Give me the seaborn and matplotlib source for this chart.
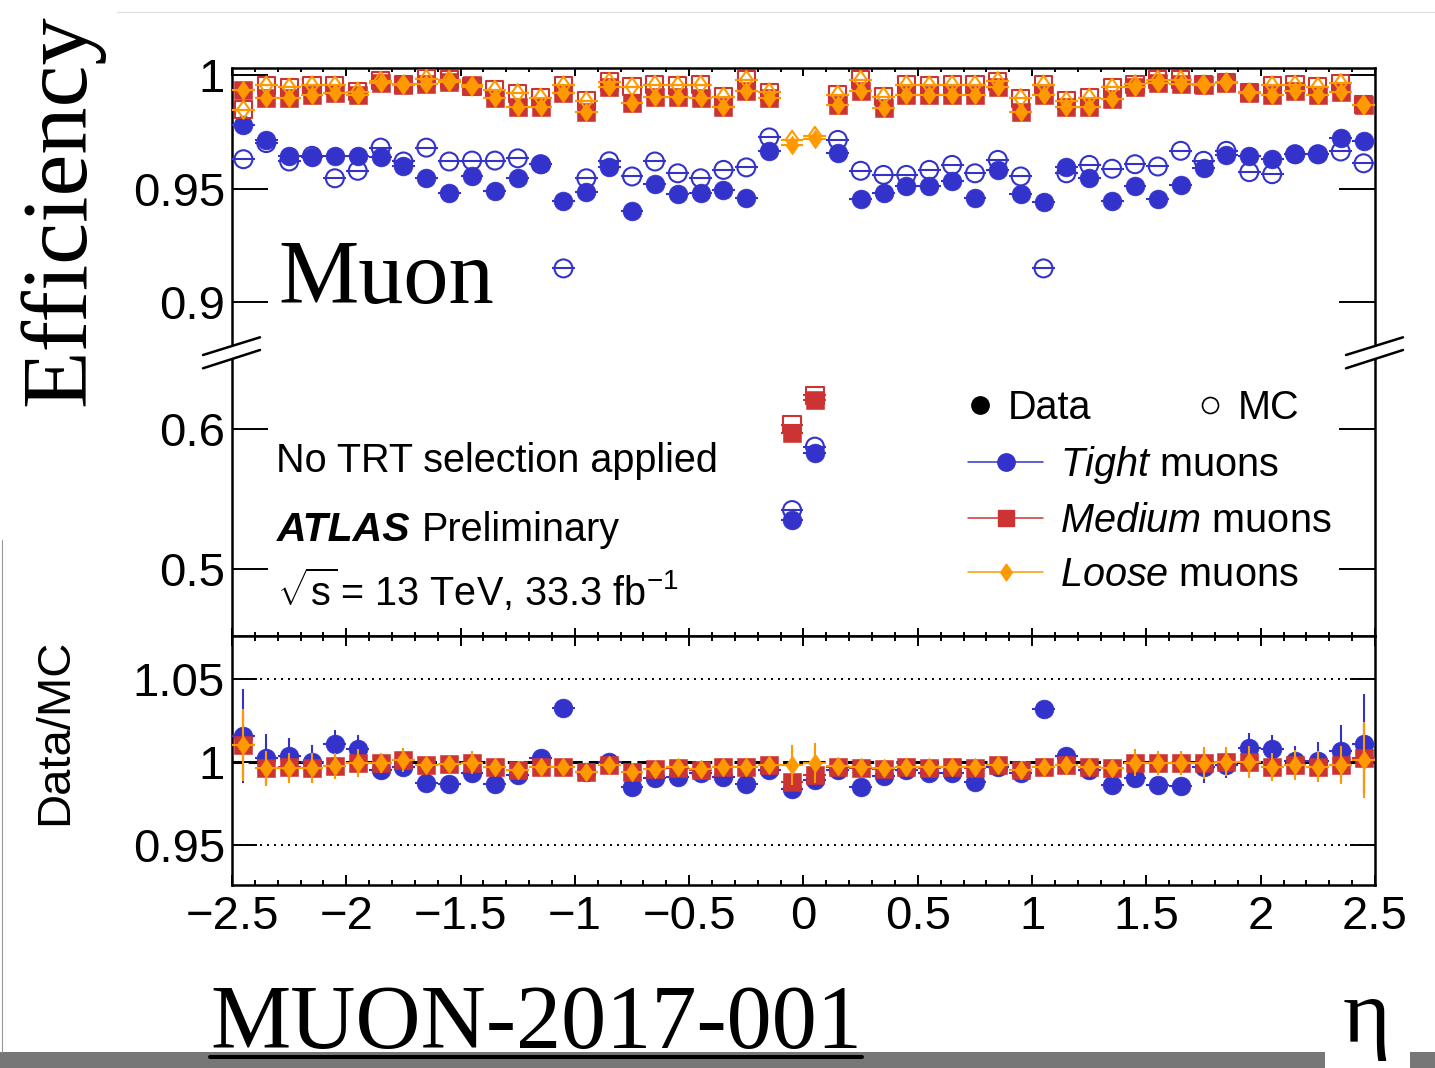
import numpy as np
import pandas as pd
import matplotlib
matplotlib.use("Agg")
import matplotlib.pyplot as plt
import seaborn as sns
from matplotlib.lines import Line2D
from matplotlib.patches import Rectangle, Polygon
from matplotlib.path import Path
from matplotlib.ticker import MultipleLocator, FixedLocator, FuncFormatter, NullLocator

# ---------------------------------------------------------------- data
# eta bin centres (bin width 0.1)
eta = [-2.45, -2.35, -2.25, -2.15, -2.05, -1.95, -1.85, -1.75, -1.65, -1.55,
       -1.45, -1.35, -1.25, -1.15, -1.05, -0.95, -0.85, -0.75, -0.65, -0.55,
       -0.45, -0.35, -0.25, -0.15, -0.05, 0.05, 0.15, 0.25, 0.35, 0.45,
       0.55, 0.65, 0.75, 0.85, 0.95, 1.05, 1.15, 1.25, 1.35, 1.45,
       1.55, 1.65, 1.75, 1.85, 1.95, 2.05, 2.15, 2.25, 2.35, 2.45]
bin_half_width = 0.05

tight_data = [0.978, 0.9715, 0.9644, 0.9638, 0.9641, 0.9641, 0.9637, 0.960, 0.9545, 0.948,
              0.9553, 0.9487, 0.9548, 0.9607, 0.9446, 0.9484, 0.9593, 0.9403, 0.9519, 0.9475,
              0.9479, 0.9494, 0.946, 0.9663, 0.535, 0.5826, 0.9656, 0.9455, 0.9479, 0.9509,
              0.9509, 0.9531, 0.9457, 0.9582, 0.9475, 0.944, 0.9593, 0.9548, 0.9443, 0.9509,
              0.9455, 0.9516, 0.9589, 0.9648, 0.9641, 0.9631, 0.9651, 0.9651, 0.9722, 0.971]
tight_mc = [0.9629, 0.970, 0.9619, 0.9644, 0.9545, 0.9578, 0.968, 0.9619, 0.968, 0.9619,
            0.9623, 0.9623, 0.9633, 0.9607, 0.9148, 0.9545, 0.962, 0.9553, 0.9619, 0.9567,
            0.9545, 0.9582, 0.9593, 0.9725, 0.5421, 0.5874, 0.9714, 0.9578, 0.956, 0.956,
            0.9582, 0.9604, 0.9567, 0.9626, 0.9553, 0.9148, 0.9567, 0.9604, 0.9587, 0.9607,
            0.9597, 0.9666, 0.9622, 0.9666, 0.9572, 0.9563, 0.9651, 0.9651, 0.9663, 0.9611]

medium_data = [0.9935, 0.990, 0.9898, 0.991, 0.992, 0.9913, 0.9964, 0.9954, 0.996, 0.9968,
               0.9954, 0.9898, 0.9861, 0.9861, 0.992, 0.9839, 0.9945, 0.9876, 0.9905, 0.9905,
               0.990, 0.9857, 0.993, 0.990, 0.597, 0.6205, 0.9869, 0.993, 0.9854, 0.9913,
               0.991, 0.9913, 0.9913, 0.9949, 0.9839, 0.9913, 0.9861, 0.9857, 0.9895, 0.9949,
               0.9964, 0.996, 0.9954, 0.9964, 0.992, 0.9913, 0.993, 0.9913, 0.9927, 0.9869]
medium_mc = [0.9847, 0.9954, 0.9945, 0.9954, 0.9954, 0.9927, 0.9975, 0.9959, 0.9983, 0.9979,
             0.9949, 0.9935, 0.992, 0.990, 0.9954, 0.9886, 0.9969, 0.9949, 0.9957, 0.9954,
             0.9957, 0.9905, 0.9979, 0.9924, 0.603, 0.624, 0.9913, 0.9979, 0.9905, 0.9957,
             0.9954, 0.9957, 0.9957, 0.9973, 0.9898, 0.9957, 0.9886, 0.990, 0.9945, 0.9959,
             0.9979, 0.9979, 0.9959, 0.9968, 0.9924, 0.9954, 0.9957, 0.9949, 0.9964, 0.9869]

loose_data = [0.9935, 0.990, 0.9898, 0.991, 0.992, 0.9913, 0.9964, 0.9954, 0.996, 0.9968,
              0.9954, 0.9898, 0.9861, 0.9861, 0.992, 0.9839, 0.9945, 0.9876, 0.9905, 0.9905,
              0.990, 0.9857, 0.993, 0.990, 0.9692, 0.9718, 0.9869, 0.993, 0.9854, 0.9913,
              0.991, 0.9913, 0.9913, 0.9949, 0.9839, 0.9913, 0.9861, 0.9857, 0.9895, 0.9949,
              0.9964, 0.996, 0.9954, 0.9964, 0.992, 0.9913, 0.993, 0.9913, 0.9927, 0.9869]
loose_mc = [0.9847, 0.9954, 0.9945, 0.9954, 0.9954, 0.9927, 0.9975, 0.9959, 0.9983, 0.9979,
            0.9949, 0.9935, 0.992, 0.990, 0.9954, 0.9886, 0.9969, 0.9949, 0.9957, 0.9954,
            0.9957, 0.9905, 0.9979, 0.9924, 0.9715, 0.9732, 0.9913, 0.9979, 0.9905, 0.9957,
            0.9954, 0.9957, 0.9957, 0.9973, 0.9898, 0.9957, 0.9886, 0.990, 0.9945, 0.9959,
            0.9979, 0.9979, 0.9959, 0.9968, 0.9924, 0.9954, 0.9957, 0.9949, 0.9964, 0.9869]

# Data/MC scale factors and their uncertainties
tight_ratio = [1.0157, 1.0022, 1.0036, 1.0002, 1.0108, 1.0076, 0.9952, 0.9972, 0.9872, 0.9866,
               0.9932, 0.9867, 0.9922, 1.0022, 1.0323, 0.9942, 0.9998, 0.9851, 0.9902, 0.9912,
               0.9936, 0.9912, 0.9867, 0.9952, 0.9835, 0.9892, 0.9952, 0.9851, 0.9916, 0.9952,
               0.9932, 0.9932, 0.9881, 0.9972, 0.9932, 1.0317, 1.0036, 0.9952, 0.9861, 0.9902,
               0.9861, 0.9855, 0.9972, 0.9982, 1.0083, 1.0076, 1.0008, 1.0008, 1.0068, 1.0108]
tight_ratio_err = [0.028, 0.015, 0.011, 0.010, 0.0088, 0.009, 0.005, 0.005, 0.004, 0.004,
                   0.004, 0.004, 0.004, 0.004, 0.004, 0.004, 0.004, 0.004, 0.004, 0.004,
                   0.004, 0.004, 0.004, 0.004, 0.005, 0.005, 0.004, 0.004, 0.004, 0.004,
                   0.004, 0.004, 0.004, 0.004, 0.004, 0.004, 0.004, 0.004, 0.004, 0.004,
                   0.005, 0.005, 0.010, 0.008, 0.0094, 0.0086, 0.009, 0.011, 0.0155, 0.030]
medium_ratio = [1.0102, 0.9962, 0.997, 0.9962, 0.9976, 0.9996, 0.9996, 1.0012, 0.998, 0.999,
                0.9996, 0.9968, 0.9952, 0.9968, 0.9972, 0.9942, 0.9982, 0.9942, 0.9956, 0.9962,
                0.9952, 0.9968, 0.9968, 0.9982, 0.9881, 0.9922, 0.9972, 0.9962, 0.9956, 0.9968,
                0.9962, 0.9968, 0.9962, 0.9982, 0.9952, 0.9968, 0.998, 0.9968, 0.9962, 0.9996,
                0.9992, 0.9992, 0.9996, 1.0002, 1.0002, 0.997, 0.9982, 0.9972, 0.9982, 1.0022]
medium_ratio_err = [0.019, 0.0095, 0.008, 0.008, 0.007, 0.0075, 0.0055, 0.0055, 0.004, 0.004,
                    0.004, 0.004, 0.004, 0.004, 0.004, 0.004, 0.003, 0.003, 0.003, 0.003,
                    0.003, 0.003, 0.003, 0.003, 0.004, 0.004, 0.003, 0.003, 0.003, 0.003,
                    0.003, 0.003, 0.003, 0.003, 0.004, 0.004, 0.004, 0.004, 0.004, 0.005,
                    0.006, 0.006, 0.0085, 0.008, 0.0085, 0.0075, 0.008, 0.0085, 0.010, 0.021]
loose_ratio = [1.0102, 0.9962, 0.9966, 0.9962, 0.9976, 0.9996, 0.9996, 1.0012, 0.998, 0.999,
               0.9996, 0.9968, 0.9952, 0.9968, 0.9972, 0.9942, 0.9982, 0.9942, 0.9956, 0.9968,
               0.9956, 0.9968, 0.9972, 0.9982, 0.998, 0.9992, 0.9976, 0.9968, 0.9962, 0.9972,
               0.9968, 0.9972, 0.9968, 0.9982, 0.9952, 0.9968, 0.998, 0.9968, 0.9962, 0.9996,
               0.9992, 0.9992, 0.9996, 1.0002, 1.0002, 0.997, 0.9982, 0.9972, 0.9982, 1.0012]
loose_ratio_err = [0.0215, 0.0105, 0.009, 0.009, 0.008, 0.0085, 0.006, 0.0072, 0.004, 0.004,
                   0.007, 0.004, 0.004, 0.004, 0.004, 0.004, 0.003, 0.003, 0.003, 0.003,
                   0.003, 0.003, 0.003, 0.003, 0.012, 0.012, 0.003, 0.003, 0.003, 0.003,
                   0.003, 0.003, 0.003, 0.003, 0.004, 0.004, 0.004, 0.004, 0.005, 0.008,
                   0.0072, 0.0072, 0.0095, 0.0087, 0.0095, 0.0083, 0.009, 0.0093, 0.0113, 0.023]

eta_ticks = [-2.5, -2, -1.5, -1, -0.5, 0, 0.5, 1, 1.5, 2, 2.5]
eff_ticks = [0.5, 0.6, 0.9, 0.95, 1.0]
ratio_ticks = [0.95, 1.0, 1.05]

# ---------------------------------------------------------------- style
W, H = 1435, 1068
def fx(px):
    return px / W
def fy(py):
    return 1 - py / H

sns.set_theme(style="ticks")
plt.rcParams["font.family"] = ["Liberation Sans", "DejaVu Sans"]
plt.rcParams["mathtext.fontset"] = "custom"
plt.rcParams["mathtext.rm"] = "Liberation Sans"
plt.rcParams["mathtext.it"] = "Liberation Sans:italic"
plt.rcParams["mathtext.bf"] = "Liberation Sans:bold"
plt.rcParams["axes.unicode_minus"] = True
plt.rcParams["axes.linewidth"] = 1.8
plt.rcParams["axes.edgecolor"] = "black"
for key in ("text.color", "axes.labelcolor", "xtick.color", "ytick.color"):
    plt.rcParams[key] = "black"

BLUE, RED, ORANGE = "#3333cc", "#cc3333", "#ff9900"
TXT = 28.5
TICK = 34
S_CIRCLE, S_SQUARE, S_DIAMOND = 185, 170, 185

diamond = Path([(0, 1), (0.7, 0), (0, -1), (-0.7, 0), (0, 1)],
               [Path.MOVETO, Path.LINETO, Path.LINETO, Path.LINETO, Path.CLOSEPOLY])

fig = plt.figure(figsize=(W / 100, H / 100), dpi=100)
ax = fig.add_axes([fx(232), fy(636), (1375 - 232) / W, (636 - 68) / H])
axr = fig.add_axes([fx(232), fy(885), (1375 - 232) / W, (885 - 636) / H])

# broken efficiency axis: two linear segments joined at the break
Y_KNOTS = [-10.0, 0.6, 0.65429, 0.87841, 0.9, 10.0]
F_KNOTS = [207 - 10.6 * 1400, 207, 283, 285, 334, 334 + 9.1 * 2270]
def fwd(y):
    return np.interp(y, Y_KNOTS, F_KNOTS)
def inv(f):
    return np.interp(f, F_KNOTS, Y_KNOTS)
ax.set_yscale("function", functions=(fwd, inv))


def draw_series(axis, y, color, marker, size, filled, z, yerr=None):
    df = pd.DataFrame({"eta": eta, "value": y})
    axis.errorbar(df["eta"], df["value"], xerr=bin_half_width, yerr=yerr, fmt="none",
                  ecolor=color, elinewidth=1.5, capsize=0, zorder=z)
    if filled:
        sns.scatterplot(data=df, x="eta", y="value", ax=axis, marker=marker, s=size,
                        color=color, edgecolor=color, linewidth=0.4, zorder=z + 0.5,
                        legend=False)
    else:
        sns.scatterplot(data=df, x="eta", y="value", ax=axis, marker=marker, s=size * 0.9,
                        color=color, facecolor="none", edgecolor=color, linewidth=1.5,
                        zorder=z + 0.5, legend=False)


# efficiency panel
draw_series(ax, tight_mc, BLUE, "o", S_CIRCLE, False, 3)
draw_series(ax, tight_data, BLUE, "o", S_CIRCLE, True, 4)
draw_series(ax, medium_mc, RED, "s", S_SQUARE, False, 5)
draw_series(ax, medium_data, RED, "s", S_SQUARE, True, 6)
draw_series(ax, loose_mc, ORANGE, diamond, S_DIAMOND, False, 7)
draw_series(ax, loose_data, ORANGE, diamond, S_DIAMOND, True, 8)

# ratio panel
axr.axhline(1.0, color="black", lw=2.2, ls=(0, (3.3, 2.0)), zorder=1)
for v in (0.95, 1.05):
    axr.axhline(v, color="black", lw=1.4, ls=(0, (1, 2.6)), zorder=1)
draw_series(axr, tight_ratio, BLUE, "o", S_CIRCLE, True, 3, yerr=tight_ratio_err)
draw_series(axr, medium_ratio, RED, "s", S_SQUARE, True, 5, yerr=medium_ratio_err)
draw_series(axr, loose_ratio, ORANGE, diamond, S_DIAMOND, True, 7, yerr=loose_ratio_err)

# axes limits, ticks
for a in (ax, axr):
    a.set_xlim(-2.5, 2.5)
    a.set_xlabel("")
    a.set_ylabel("")
    a.xaxis.set_major_locator(FixedLocator(eta_ticks))
    a.xaxis.set_minor_locator(MultipleLocator(0.1))
    for s in a.spines.values():
        s.set_visible(True)
        s.set_linewidth(1.8)
        s.set_color("black")

ax.set_ylim(inv(0), inv(568))
ax.yaxis.set_major_locator(FixedLocator(eff_ticks))
ax.yaxis.set_minor_locator(NullLocator())
ax.yaxis.set_major_formatter(FuncFormatter(lambda v, p: f"{v:g}"))
ax.tick_params(axis="x", which="both", direction="in", top=True, bottom=True,
               labelbottom=False, width=1.4)
ax.tick_params(axis="x", which="major", length=6)
ax.tick_params(axis="x", which="minor", length=3)
ax.tick_params(axis="y", which="major", direction="in", left=True, right=True,
               length=26, width=1.4, labelsize=TICK, pad=5)

axr.set_ylim(0.926, 1.0759)
axr.yaxis.set_major_locator(FixedLocator(ratio_ticks))
axr.yaxis.set_minor_locator(NullLocator())
axr.yaxis.set_major_formatter(FuncFormatter(lambda v, p: f"{v:g}"))
axr.xaxis.set_major_formatter(FuncFormatter(lambda v, p: f"{v:g}".replace("-", "\u2212")))
axr.tick_params(axis="x", which="both", direction="in", top=True, bottom=True,
                width=1.4, labelsize=TICK, pad=7)
axr.tick_params(axis="x", which="major", length=7.5)
axr.tick_params(axis="x", which="minor", length=3.8)
axr.tick_params(axis="y", which="major", direction="in", left=True, right=True,
                length=18, width=1.4, labelsize=TICK, pad=5)

# axis break marks on both sides of the efficiency panel
for dx in (0, 1143):
    fig.add_artist(Polygon([(fx(203 + dx), fy(355)), (fx(260 + dx), fy(337.3)),
                            (fx(260 + dx), fy(350)), (fx(203 + dx), fy(368.3))],
                           closed=True, transform=fig.transFigure, facecolor="white",
                           edgecolor="none", zorder=5))
    for y0, y1 in ((355, 337.3), (368.3, 350)):
        fig.add_artist(Line2D([fx(203 + dx), fx(260 + dx)], [fy(y0), fy(y1)],
                              transform=fig.transFigure, color="black", lw=1.8, zorder=6))

# legend
data_h = Line2D([], [], ls="none", marker="o", ms=12.5, mfc="black", mec="black")
mc_h = Line2D([], [], ls="none", marker="o", ms=11.5, mfc="none", mec="black", mew=1.2)
leg1 = ax.legend([data_h, mc_h], ["Data", "MC"], ncol=2, loc="center left",
                 bbox_to_anchor=(fx(964), fy(408)), bbox_transform=fig.transFigure,
                 frameon=False, fontsize=TXT, handlelength=0.8, handletextpad=0.31,
                 columnspacing=2.59, borderpad=0, borderaxespad=0)
ax.add_artist(leg1)
tight_h = Line2D([], [], color=BLUE, lw=1.1, marker="o", ms=12.5, mfc=BLUE, mec=BLUE)
medium_h = Line2D([], [], color=RED, lw=1.1, marker="s", ms=12, mfc=RED, mec=RED)
loose_h = Line2D([], [], color=ORANGE, lw=1.1, marker=diamond, ms=12, mfc=ORANGE, mec=ORANGE)
ax.legend([tight_h, medium_h, loose_h],
          [r"$\mathit{Tight}$ muons", r"$\mathit{Medium}$ muons", r"$\mathit{Loose}$ muons"],
          loc="center left", bbox_to_anchor=(fx(968), fy(519)), bbox_transform=fig.transFigure,
          frameon=False, fontsize=TXT, handlelength=1.9, handletextpad=0.42,
          labelspacing=0.41, borderpad=0, borderaxespad=0)

# annotations
fig.text(fx(278), fy(303), "Muon", family="Liberation Serif", fontsize=65, va="baseline")
fig.text(fx(276), fy(472), "No TRT selection applied", fontsize=TXT, va="baseline")
fig.text(fx(277), fy(541), "ATLAS", fontsize=29.5, weight="bold", style="italic", va="baseline")
fig.text(fx(422), fy(541), "Preliminary", fontsize=TXT, va="baseline")
fig.text(fx(277), fy(606), r"$\sqrt{\mathrm{s}}\,$= 13 TeV, 33.3 fb$^{-1}$", fontsize=TXT,
         va="baseline")

# axis titles
fig.text(fx(62), fy(210), "Efficiency", family="Liberation Serif", fontsize=68,
         rotation=90, ha="center", va="center")
fig.text(fx(55), fy(732), "Data/MC", fontsize=TICK, rotation=90, ha="center", va="center")
fig.text(fx(1366), fy(1020), "\u03b7", family="Liberation Serif", fontsize=66,
         ha="center", va="center")
fig.text(fx(210), fy(1048), "MUON-2017-001", family="Liberation Serif", fontsize=65,
         va="baseline")
fig.add_artist(Line2D([fx(210), fx(862)], [fy(1057), fy(1057)], transform=fig.transFigure,
                      color="black", lw=2.9))

# page footer strip and frame lines
fig.add_artist(Rectangle((0, 0), fx(1325), 16 / H, transform=fig.transFigure,
                         facecolor="#777777", edgecolor="none", zorder=0))
fig.add_artist(Rectangle((fx(1410), 0), 1 - fx(1410), 16 / H, transform=fig.transFigure,
                         facecolor="#777777", edgecolor="none", zorder=0))
fig.add_artist(Line2D([fx(117), 1], [fy(12), fy(12)], transform=fig.transFigure,
                      color="#dddddd", lw=0.8))
fig.add_artist(Line2D([fx(1.5), fx(1.5)], [fy(540), fy(1052)], transform=fig.transFigure,
                      color="#999999", lw=0.8))

fig.savefig("out.png", dpi=100)
